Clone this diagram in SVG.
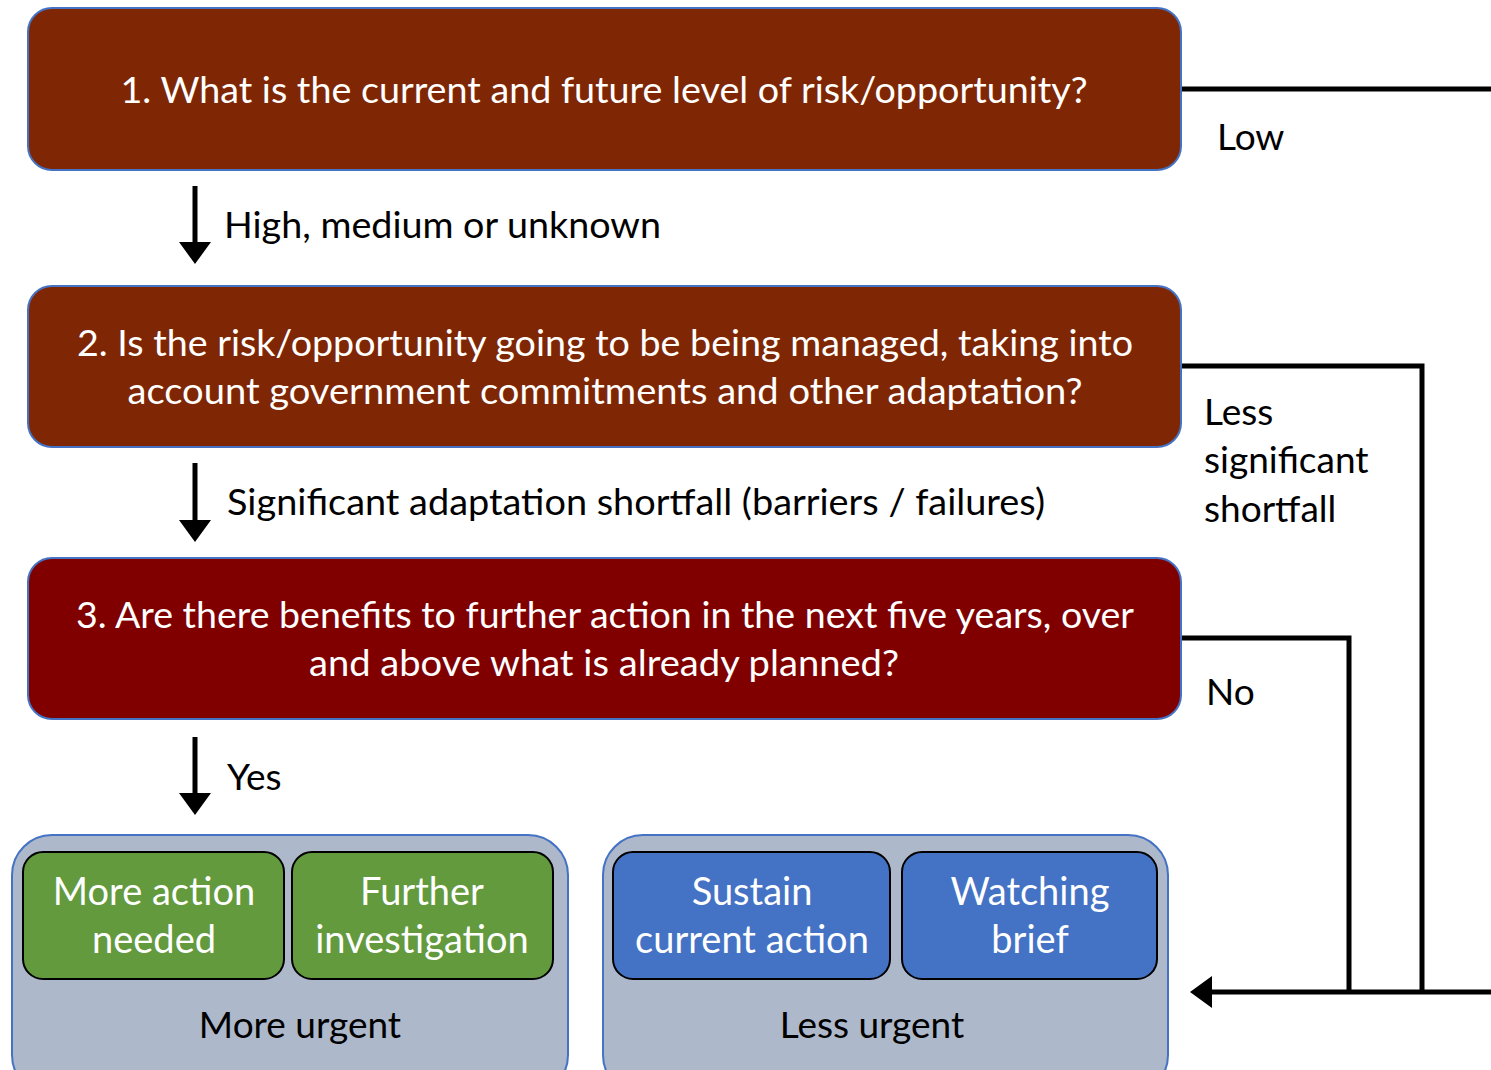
<svg xmlns="http://www.w3.org/2000/svg" width="1491" height="1070" viewBox="0 0 1491 1070">
<defs>
<style>
.q{stroke:#4472C4;stroke-width:2}
.wt{fill:#fff;font-family:Lato,"Open Sans",sans-serif;font-size:36px}
.ws{fill:#fff;font-family:Lato,"Open Sans",sans-serif;font-size:38px}
.bt{fill:#000;font-family:Lato,"Open Sans",sans-serif;font-size:37px}
.grp{fill:#ADB9CA;stroke:#4472C4;stroke-width:2}
.gb{fill:#629A3D;stroke:#000;stroke-width:2}
.bb{fill:#4472C4;stroke:#000;stroke-width:2}
.ln{fill:none;stroke:#000;stroke-width:5}
</style>
<marker id="ah" markerUnits="userSpaceOnUse" markerWidth="22" markerHeight="32" viewBox="0 0 22 32" refX="18" refY="16" orient="auto">
<path d="M0,0 L22,16 L0,32 Z" fill="#000"/>
</marker>
</defs>
<rect width="1491" height="1070" fill="#fff"/>
<g id="connectors">
<path class="ln" d="M1181,89 H1500 V992 H1194" marker-end="url(#ah)"/>
<path class="ln" d="M1181,366 H1422 V992"/>
<path class="ln" d="M1181,638 H1349 V992"/>
<path class="ln" d="M195,186 V260" marker-end="url(#ah)"/>
<path class="ln" d="M195,463 V538" marker-end="url(#ah)"/>
<path class="ln" d="M195,737 V811" marker-end="url(#ah)"/>
<text class="bt" x="224" y="238" textLength="437" lengthAdjust="spacingAndGlyphs">High, medium or unknown</text>
<text class="bt" x="227" y="515" textLength="818" lengthAdjust="spacingAndGlyphs">Significant adaptation shortfall (barriers / failures)</text>
<text class="bt" x="227" y="790">Yes</text>
<text class="bt" x="1217" y="150">Low</text>
<text class="bt" x="1204" y="425">Less</text>
<text class="bt" x="1204" y="473">significant</text>
<text class="bt" x="1204" y="522">shortfall</text>
<text class="bt" x="1206" y="705">No</text>
</g>
<g id="q1">
<rect class="q" x="28" y="8" width="1153" height="162" rx="24" fill="#7F2704"/>
<text class="wt" x="604" y="103" text-anchor="middle" textLength="967" lengthAdjust="spacingAndGlyphs">1. What is the current and future level of risk/opportunity?</text>
</g>
<g id="q2">
<rect class="q" x="28" y="286" width="1153" height="161" rx="24" fill="#7F2704"/>
<text class="wt" x="605" y="356" text-anchor="middle" textLength="1056" lengthAdjust="spacingAndGlyphs">2. Is the risk/opportunity going to be being managed, taking into</text>
<text class="wt" x="605" y="404" text-anchor="middle" textLength="955" lengthAdjust="spacingAndGlyphs">account government commitments and other adaptation?</text>
</g>
<g id="q3">
<rect class="q" x="28" y="558" width="1153" height="161" rx="24" fill="#800000"/>
<text class="wt" x="605" y="628" text-anchor="middle" textLength="1058" lengthAdjust="spacingAndGlyphs">3. Are there benefits to further action in the next five years, over</text>
<text class="wt" x="604" y="676" text-anchor="middle" textLength="590" lengthAdjust="spacingAndGlyphs">and above what is already planned?</text>
</g>
<g id="more-urgent">
<rect class="grp" x="12" y="835" width="556" height="260" rx="40"/>
<text class="bt" x="300" y="1038" text-anchor="middle" font-size="39">More urgent</text>
</g>
<g id="more-action">
<rect class="gb" x="23" y="852" width="261" height="127" rx="20"/>
<text class="ws" x="154" y="905" text-anchor="middle">More action</text>
<text class="ws" x="154" y="953" text-anchor="middle">needed</text>
</g>
<g id="further-investigation">
<rect class="gb" x="292" y="852" width="261" height="127" rx="20"/>
<text class="ws" x="422" y="905" text-anchor="middle">Further</text>
<text class="ws" x="422" y="953" text-anchor="middle">investigation</text>
</g>
<g id="less-urgent">
<rect class="grp" x="603" y="835" width="565" height="260" rx="40"/>
<text class="bt" x="872" y="1038" text-anchor="middle" font-size="39">Less urgent</text>
</g>
<g id="sustain">
<rect class="bb" x="613" y="852" width="277" height="127" rx="20"/>
<text class="ws" x="752" y="905" text-anchor="middle">Sustain</text>
<text class="ws" x="752" y="953" text-anchor="middle">current action</text>
</g>
<g id="watching">
<rect class="bb" x="902" y="852" width="255" height="127" rx="20"/>
<text class="ws" x="1030" y="905" text-anchor="middle">Watching</text>
<text class="ws" x="1030" y="953" text-anchor="middle">brief</text>
</g>
</svg>
